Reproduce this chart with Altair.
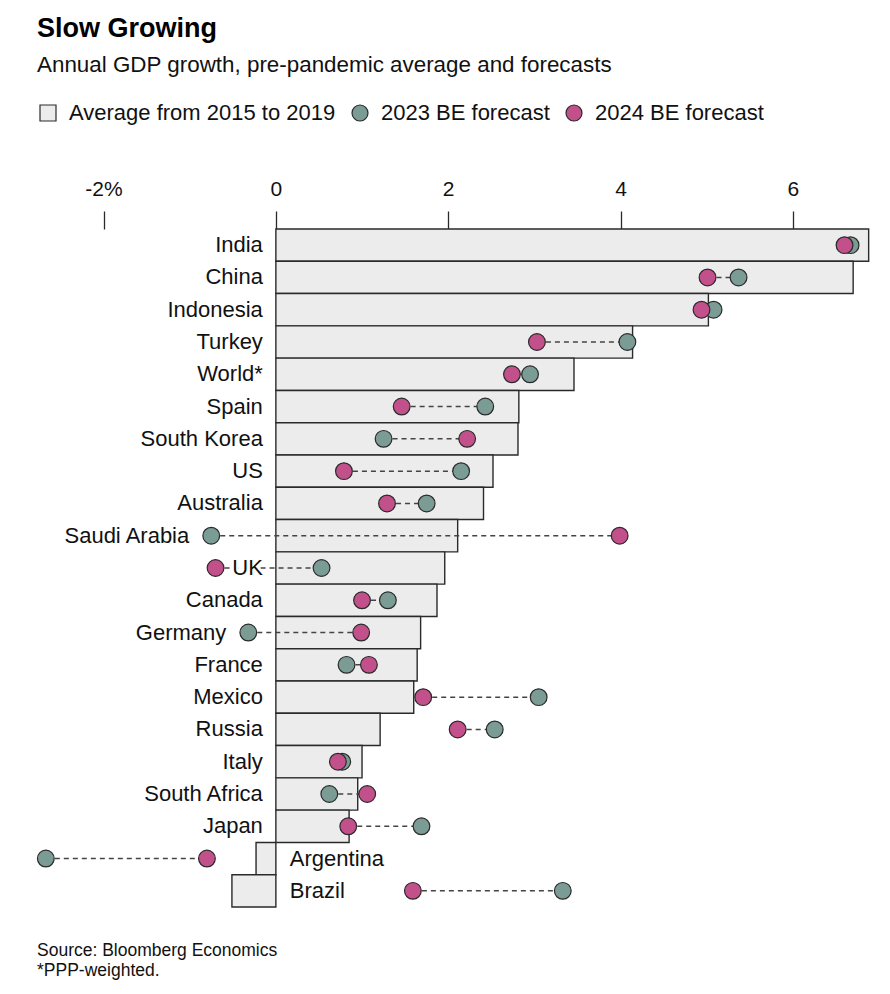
import altair as alt
import pandas as pd

countries = ["India", "China", "Indonesia", "Turkey", "World*", "Spain", "South Korea",
             "US", "Australia", "Saudi Arabia", "UK", "Canada", "Germany", "France",
             "Mexico", "Russia", "Italy", "South Africa", "Japan", "Argentina", "Brazil"]
avg_2015_2019 = [6.88, 6.70, 5.02, 4.14, 3.46, 2.82, 2.81, 2.52, 2.41, 2.11, 1.96, 1.87,
                 1.68, 1.64, 1.60, 1.21, 1.00, 0.95, 0.85, -0.23, -0.51]
forecast_2023 = [6.67, 5.37, 5.08, 4.08, 2.95, 2.43, 1.25, 2.15, 1.75, -0.75, 0.53, 1.30,
                 -0.32, 0.82, 3.05, 2.54, 0.77, 0.62, 1.69, -2.67, 3.33]
forecast_2024 = [6.60, 5.01, 4.94, 3.03, 2.74, 1.46, 2.22, 0.79, 1.29, 3.99, -0.70, 1.00,
                 0.99, 1.08, 1.71, 2.11, 0.72, 1.06, 0.84, -0.80, 1.59]
series_names = ["Average from 2015 to 2019", "2023 BE forecast", "2024 BE forecast"]
tick_values = [-2, 0, 2, 4, 6]
labels_after_dot = ["Saudi Arabia", "Germany"]
labels_right_of_zero = ["Argentina", "Brazil"]

GREEN = "#7a9c94"
PINK = "#c2508a"
BARFILL = "#ebeceb"
DARK = "#2a2a2a"
FONT = "Liberation Sans"

W, H = 853, 678

base = pd.DataFrame({"country": countries, "avg": avg_2015_2019,
                     "f2023": forecast_2023, "f2024": forecast_2024})
base["lo"] = base[["f2023", "f2024"]].min(axis=1)
base["hi"] = base[["f2023", "f2024"]].max(axis=1)


def side(c):
    if c in labels_after_dot:
        return "dot"
    if c in labels_right_of_zero:
        return "right"
    return "left"


base["side"] = base["country"].map(side)
base["label_x"] = [r.lo if r.side == "dot" else 0.0 for r in base.itertuples()]

dots = pd.concat([
    pd.DataFrame({"country": countries, "series": series_names[1], "value": forecast_2023}),
    pd.DataFrame({"country": countries, "series": series_names[2], "value": forecast_2024}),
], ignore_index=True)

xscale = alt.Scale(domain=[-2.9, 7.0], nice=False, zero=False)
xaxis = alt.Axis(orient="top", values=tick_values, title=None, domain=False,
                 grid=False, tickSize=18, tickColor=DARK, tickWidth=1.3,
                 labelFontSize=21, labelColor="#111", labelPadding=12, labelFont=FONT,
                 labelExpr="datum.value == -2 ? '-2%' : datum.label")
yenc = alt.Y("country:N", sort=countries, axis=None,
             scale=alt.Scale(paddingInner=0, paddingOuter=0))

bars = alt.Chart(base).mark_bar(fill=BARFILL, stroke=DARK, strokeWidth=1.4).encode(
    x=alt.X("avg:Q", scale=xscale, axis=xaxis, title=None),
    y=yenc,
)

rules = alt.Chart(base).mark_rule(color="#444", strokeWidth=1.5, strokeDash=[5, 4]).encode(
    x=alt.X("lo:Q", scale=xscale, axis=xaxis, title=None), x2="hi:Q", y=yenc,
)

points = alt.Chart(dots).mark_point(filled=True, size=280, stroke=DARK, strokeWidth=1.2,
                                    opacity=1).encode(
    x=alt.X("value:Q", scale=xscale, axis=xaxis, title=None),
    y=yenc,
    fill=alt.Fill("series:N", scale=alt.Scale(domain=series_names, range=[BARFILL, GREEN, PINK]),
                  legend=alt.Legend(title=None, orient="none", legendX=11, legendY=-127,
                                    direction="horizontal", symbolSize=256,
                                    symbolStrokeColor=DARK, symbolStrokeWidth=1.2,
                                    labelFontSize=22, labelFont=FONT, labelColor="#111",
                                    labelOffset=10, columnPadding=13, symbolOpacity=1,
                                    labelLimit=500)),
    shape=alt.Shape("series:N", scale=alt.Scale(domain=series_names,
                                                range=["square", "circle", "circle"]),
                    legend=alt.Legend(title=None, labelLimit=500)),
)


def label_layer(which, align, dx):
    src = alt.Chart(base).transform_filter(alt.datum.side == which)
    enc = dict(x=alt.X("label_x:Q", scale=xscale, axis=xaxis, title=None), y=yenc,
               text="country:N")
    halo = src.mark_text(align=align, baseline="middle", dx=dx, fontSize=22, font=FONT,
                         stroke="white", strokeWidth=5, color="white").encode(**enc)
    txt = src.mark_text(align=align, baseline="middle", dx=dx, fontSize=22, font=FONT,
                        color="#111").encode(**enc)
    return halo + txt


footer = alt.Chart(pd.DataFrame({"t": ["Source: Bloomberg Economics\n*PPP-weighted."]})).mark_text(
    align="left", baseline="top", fontSize=17.5, font=FONT, color="#111", lineBreak="\n",
    lineHeight=20).encode(x=alt.value(11), y=alt.value(713), text="t:N")

chart = alt.layer(
    bars, rules,
    label_layer("left", "right", -13),
    label_layer("dot", "right", -22),
    label_layer("right", "left", 14),
    points, footer,
).properties(
    width=W, height=H,
    title=alt.TitleParams(text="Slow Growing",
                          subtitle="Annual GDP growth, pre-pandemic average and forecasts",
                          anchor="start", frame="group", dx=11, offset=25,
                          fontSize=27, fontWeight="bold", font=FONT, color="#000",
                          subtitleFontSize=22.4, subtitleFont=FONT, subtitleColor="#111",
                          subtitlePadding=11),
    autosize=alt.AutoSizeParams(type="none"),
    padding={"left": 18, "top": 221, "right": 3, "bottom": 78},
).configure_view(stroke=None)

chart.save("out.html", embed_options={"renderer": "svg", "actions": False})
